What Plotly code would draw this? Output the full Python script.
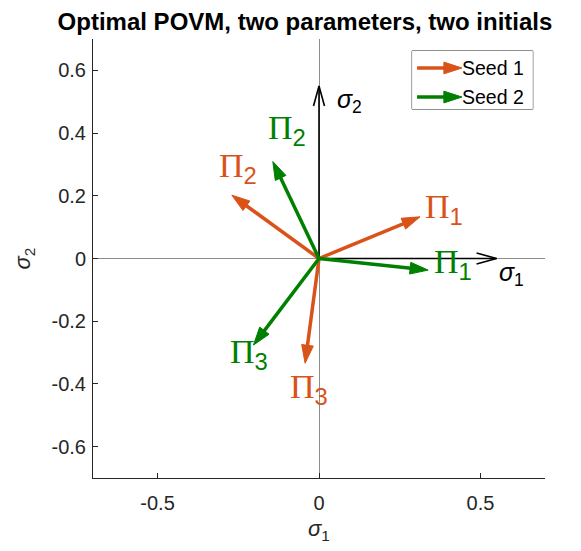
import plotly.graph_objects as go

# ---- data ----
labels = ["Π<sub>1</sub>", "Π<sub>2</sub>", "Π<sub>3</sub>"]
seed1_x = [0.313, -0.270, -0.043]
seed1_y = [0.133, 0.202, -0.334]
seed2_x = [0.338, -0.143, -0.203]
seed2_y = [-0.037, 0.309, -0.276]
seed1_lab_x = [0.322, -0.316, -0.096]
seed1_lab_y = [0.159, 0.290, -0.415]
seed2_lab_x = [0.350, -0.164, -0.282]
seed2_lab_y = [-0.019, 0.410, -0.306]
axis_arrow_len = 0.55
xticks = [-0.5, 0, 0.5]
xtick_text = ["-0.5", "0", "0.5"]
yticks = [-0.6, -0.4, -0.2, 0, 0.2, 0.4, 0.6]
ytick_text = ["-0.6", "-0.4", "-0.2", "0", "0.2", "0.4", "0.6"]
series_names = ["Seed 1", "Seed 2"]

ORANGE = "#D95319"
GREEN = "#008000"
AX = "#262626"
SANS = "Liberation Sans, Arial, sans-serif"

# the page body adds an 8px margin, so the figure is sized to fit inside the window
W, H = 565, 535
ML, MR, MT, MB = 85, 28, 31, 65
XR = [-0.7, 0.7]
YR = [-0.7, 0.7]
sx = (W - ML - MR) / (XR[1] - XR[0])   # pixels per data unit (x)
sy = (H - MT - MB) / (YR[1] - YR[0])   # pixels per data unit (y)

fig = go.Figure()

# black coordinate arrows (shaft + open "V" head derived from the tip)
HL, HW = 20, 5.5  # head length / half-width in px
L = axis_arrow_len
fig.add_trace(go.Scatter(x=[0, L], y=[0, 0], mode="lines",
                         line=dict(color="black", width=1.6), showlegend=False, hoverinfo="skip"))
fig.add_trace(go.Scatter(x=[L - HL / sx, L, L - HL / sx], y=[HW / sy, 0, -HW / sy], mode="lines",
                         line=dict(color="black", width=1.6), showlegend=False, hoverinfo="skip"))
fig.add_trace(go.Scatter(x=[0, 0], y=[0, L], mode="lines",
                         line=dict(color="black", width=1.6), showlegend=False, hoverinfo="skip"))
fig.add_trace(go.Scatter(x=[-HW / sx, 0, HW / sx], y=[L - HL / sy, L, L - HL / sy], mode="lines",
                         line=dict(color="black", width=1.6), showlegend=False, hoverinfo="skip"))


def arrow_trace(xs, ys, color, **kw):
    return go.Scatter(
        x=xs, y=ys, mode="lines+markers",
        line=dict(color=color, width=3.5),
        marker=dict(symbol=["circle", "arrow"], size=[0, 19], angleref="previous",
                    color=color, opacity=1, line=dict(width=1, color=color)),
        showlegend=False, hoverinfo="skip", **kw)


for xs, ys, color in [(seed1_x, seed1_y, ORANGE), (seed2_x, seed2_y, GREEN)]:
    for xv, yv in zip(xs, ys):
        fig.add_trace(arrow_trace([0, xv], [0, yv], color))

annotations = []


def pi_label(txt, x, y, color):
    annotations.append(dict(
        x=x, y=y, xref="x", yref="y", showarrow=False, xanchor="left", yanchor="middle",
        text=txt.replace("Π", '<span style="font-family:Liberation Serif">Π</span>'),
        font=dict(family=SANS, size=34, color=color)))


for t, x, y in zip(labels, seed1_lab_x, seed1_lab_y):
    pi_label(t, x, y, ORANGE)
for t, x, y in zip(labels, seed2_lab_x, seed2_lab_y):
    pi_label(t, x, y, GREEN)

# sigma labels on the arrows
annotations.append(dict(x=0.551, y=-0.049, xref="x", yref="y", showarrow=False,
                        xanchor="left", yanchor="middle",
                        text="<i>σ</i><sub>1</sub>", font=dict(family=SANS, size=25, color="black")))
annotations.append(dict(x=0.050, y=0.502, xref="x", yref="y", showarrow=False,
                        xanchor="left", yanchor="middle",
                        text="<i>σ</i><sub>2</sub>", font=dict(family=SANS, size=25, color="black")))

# x-axis title
annotations.append(dict(x=0.5, y=0, xref="paper", yref="paper", showarrow=False,
                        xanchor="center", yanchor="middle", yshift=-52,
                        text="<i>σ</i><sub>1</sub>", font=dict(family=SANS, size=22, color=AX)))

# legend (inset axes)
leg_y = [0.707, 0.207]
for name, color, ly in zip(series_names, [ORANGE, GREEN], leg_y):
    fig.add_trace(arrow_trace([0.041, 0.413], [ly, ly], color, xaxis="x2", yaxis="y2", name=name))
    annotations.append(dict(x=0.40, y=ly, xref="x2", yref="y2", showarrow=False,
                            xanchor="left", yanchor="middle", text=name,
                            font=dict(family=SANS, size=19.5, color="black")))

fig.update_layout(
    width=W, height=H, autosize=False,
    margin=dict(l=ML, r=MR, t=MT, b=MB),
    paper_bgcolor="white", plot_bgcolor="white",
    title=dict(text="<b>Optimal POVM, two parameters, two initials</b>",
               x=297 / W, xanchor="center", y=1 - 13.5 / H, yanchor="middle",
               font=dict(family=SANS, size=24, color="black")),
    xaxis=dict(range=XR, tickvals=xticks, ticktext=xtick_text, automargin=False,
               showline=True, linecolor=AX, linewidth=1, mirror=False,
               ticks="inside", ticklen=5, tickcolor=AX, showgrid=False,
               zeroline=True, zerolinecolor="#8c8c8c", zerolinewidth=1,
               ticklabelstandoff=7,
               tickfont=dict(family=SANS, size=20, color=AX)),
    yaxis=dict(range=YR, tickvals=yticks, ticktext=ytick_text, automargin=False,
               showline=True, linecolor=AX, linewidth=1, mirror=False,
               ticks="inside", ticklen=5, tickcolor=AX, showgrid=False,
               zeroline=True, zerolinecolor="#8c8c8c", zerolinewidth=1,
               ticklabelstandoff=2,
               tickfont=dict(family=SANS, size=20, color=AX),
               title=dict(text="<i>σ</i><sub>2</sub>", font=dict(family=SANS, size=22, color=AX),
                          standoff=14)),
    xaxis2=dict(domain=[0.706, 0.973], range=[0, 1], visible=False, anchor="y2", fixedrange=True),
    yaxis2=dict(domain=[0.8405, 0.9727], range=[0, 1], visible=False, anchor="x2", fixedrange=True),
    annotations=annotations,
    shapes=[dict(type="rect", xref="x2 domain", yref="y2 domain", x0=0, x1=1, y0=0, y1=1,
                 line=dict(color=AX, width=1), fillcolor="white", layer="below")],
    showlegend=False,
)

fig.write_html("out.html")
